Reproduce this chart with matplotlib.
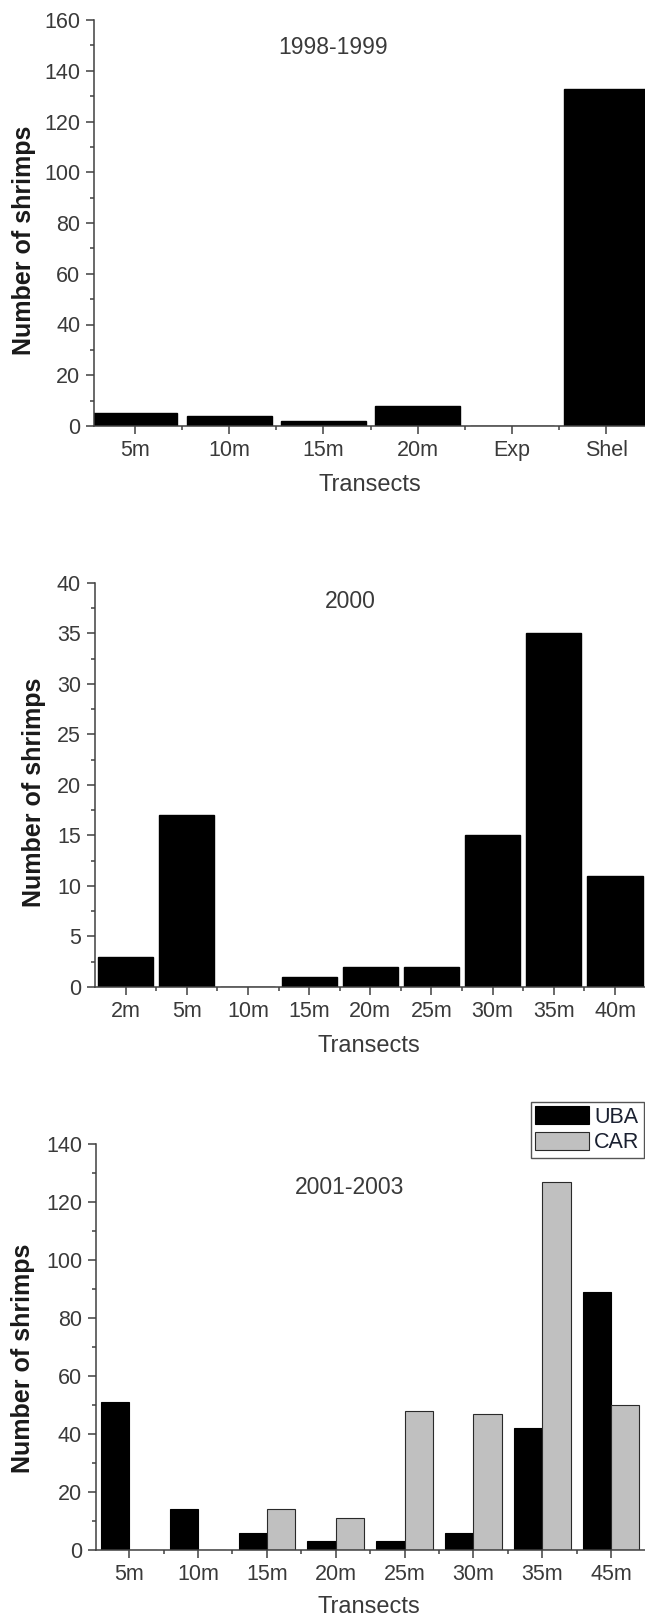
import numpy as np
import matplotlib
matplotlib.use("Agg")
import matplotlib.pyplot as plt
from matplotlib.ticker import MultipleLocator, FixedLocator

plt.rcParams['font.family'] = ['Liberation Sans', 'DejaVu Sans']

# shrimp counts per transect
sites_98 = ["5m", "10m", "15m", "20m", "Exp", "Shel"]
counts_98 = [5, 4, 2, 8, 0, 133]

sites_00 = ["2m", "5m", "10m", "15m", "20m", "25m", "30m", "35m", "40m"]
counts_00 = [3, 17, 0, 1, 2, 2, 15, 35, 11]

sites_01 = ["5m", "10m", "15m", "20m", "25m", "30m", "35m", "45m"]
uba_01 = [51, 14, 6, 3, 3, 6, 42, 89]
car_01 = [0, 0, 14, 11, 48, 47, 127, 50]

W, H = 645, 1622
TXT = "#3a3a3a"
SPINE = "#404040"


def rect(l, t, r, b):
    return [l / W, 1 - b / H, (r - l) / W, (b - t) / H]


def style(ax, n, ymax, major, minor):
    for s in ["top", "right"]:
        ax.spines[s].set_visible(False)
    for s in ["left", "bottom"]:
        ax.spines[s].set_color(SPINE)
        ax.spines[s].set_linewidth(1.1)
    ax.set_ylim(0, ymax)
    ax.yaxis.set_major_locator(MultipleLocator(major))
    ax.yaxis.set_minor_locator(MultipleLocator(minor))
    ax.xaxis.set_minor_locator(FixedLocator(np.arange(1.5, n, 1.0)))
    ax.tick_params(axis="both", which="major", length=5.5, width=1.1,
                   color=SPINE, labelsize=15.5, labelcolor=TXT, pad=4.5)
    ax.tick_params(axis="both", which="minor", length=3.2, width=1.1, color=SPINE)


def labels(ax, box, title, tpos, ypos, xpos):
    l, t, r, b = box
    fx = lambda px: (px - l) / (r - l)
    fy = lambda py: (b - py) / (b - t)
    ax.text(fx(tpos[0]), fy(tpos[1]), title, transform=ax.transAxes,
            ha="center", va="center", fontsize=16.5, color=TXT)
    ax.set_ylabel("Number of shrimps", fontsize=18, fontweight="bold",
                  color="#1a1a1a", va="center")
    ax.yaxis.set_label_coords(fx(ypos[0]), fy(ypos[1]))
    ax.set_xlabel("Transects", fontsize=17, color=TXT, va="center")
    ax.xaxis.set_label_coords(fx(xpos[0]), fy(xpos[1]))


fig = plt.figure(figsize=(W / 100, H / 100), dpi=100)

# 1998-1999
box1 = (94.3, 20, 645, 426)
ax1 = fig.add_axes(rect(*box1))
x1 = np.arange(1, len(sites_98) + 1)
ax1.bar(x1, counts_98, width=0.9, color="black", edgecolor="black")
ax1.set_xticks(x1)
ax1.set_xticklabels(sites_98)
ax1.set_xlim(0.57, 6.41)
style(ax1, len(sites_98), 160, 20, 10)
labels(ax1, box1, "1998-1999", (333, 47), (24, 240), (370, 485))

# 2000
box2 = (95, 582.7, 645, 987)
ax2 = fig.add_axes(rect(*box2))
x2 = np.arange(1, len(sites_00) + 1)
ax2.bar(x2, counts_00, width=0.9, color="black", edgecolor="black")
ax2.set_xticks(x2)
ax2.set_xticklabels(sites_00)
ax2.set_xlim(0.5, 9.49)
style(ax2, len(sites_00), 40, 5, 2.5)
labels(ax2, box2, "2000", (350, 602), (34, 792), (369, 1046))

# 2001-2003, two areas side by side
box3 = (96, 1144, 645, 1550)
ax3 = fig.add_axes(rect(*box3))
x3 = np.arange(1, len(sites_01) + 1)
ax3.bar(x3 - 0.41, uba_01, width=0.41, align="edge", color="black",
        edgecolor="black", linewidth=0.8, label="UBA")
ax3.bar(x3, car_01, width=0.41, align="edge", color="#c0c0c0",
        edgecolor="#2a2a2a", linewidth=0.8, label="CAR")
ax3.set_xticks(x3)
ax3.set_xticklabels(sites_01)
ax3.set_xlim(0.52, 8.49)
style(ax3, len(sites_01), 140, 20, 10)
labels(ax3, box3, "2001-2003", (350, 1187), (23, 1358), (369, 1607))

leg = ax3.legend(loc="upper right", bbox_to_anchor=(644 / W, 1 - 1102 / H),
                 bbox_transform=fig.transFigure, fontsize=15.5, frameon=True,
                 fancybox=False, handlelength=2.5, handleheight=0.9,
                 handletextpad=0.25, borderpad=0.2, labelspacing=0.2,
                 borderaxespad=0)
leg.get_frame().set_edgecolor("#2a2a2a")
leg.get_frame().set_linewidth(1.0)
for t in leg.get_texts():
    t.set_color("#1a2030")

fig.savefig("out.png", dpi=100)
